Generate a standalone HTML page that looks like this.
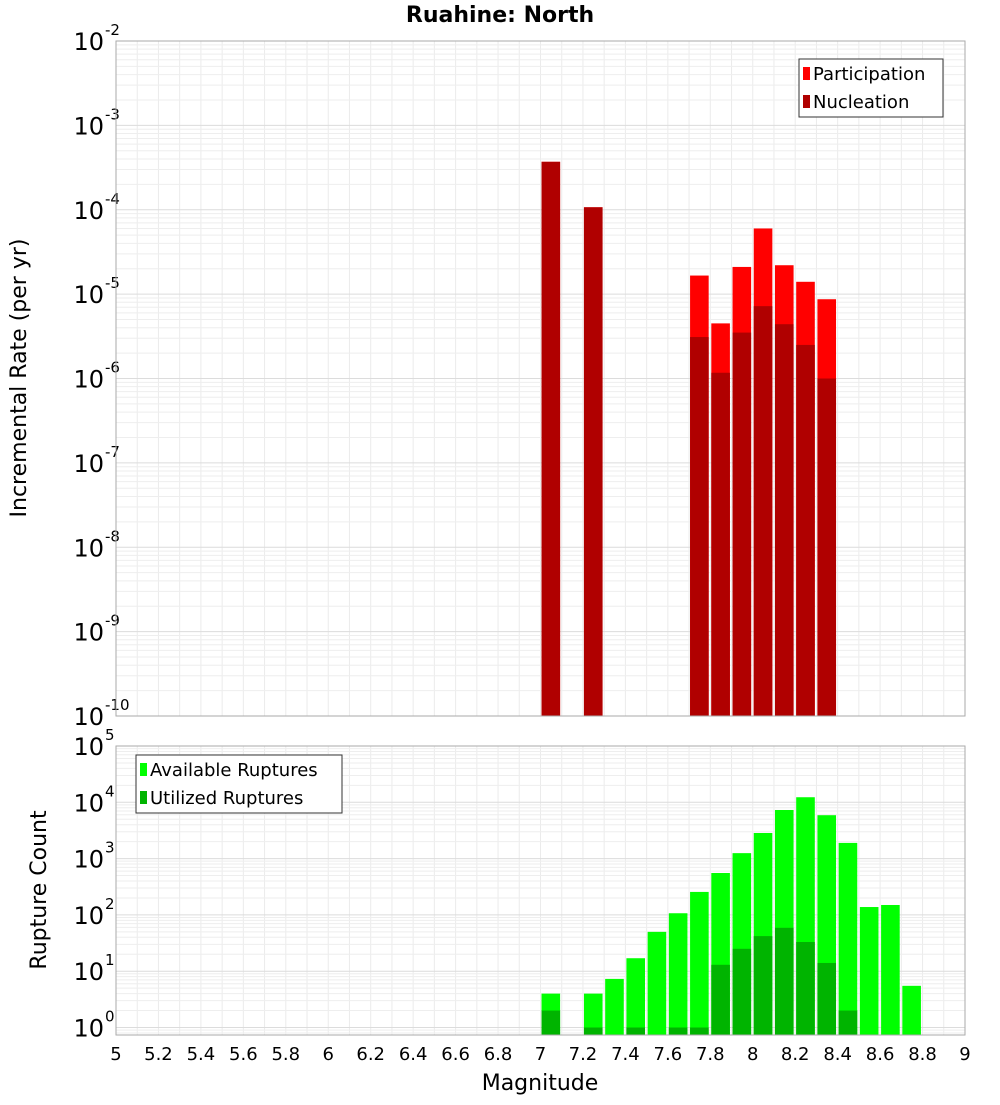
<!DOCTYPE html>
<html><head><meta charset="utf-8"><style>
body{margin:0;background:#fff;font-family:"Liberation Sans","DejaVu Sans",sans-serif}
</style></head><body>
<svg id="chart" width="1000" height="1100" xmlns="http://www.w3.org/2000/svg" font-family="DejaVu Sans, Liberation Sans, sans-serif">
<text x="500" y="22" text-anchor="middle" font-size="22" font-weight="bold">Ruahine: North</text>
<g id="top"></g><g id="bot"></g>
<text transform="translate(26,378) rotate(-90)" text-anchor="middle" font-size="22">Incremental Rate (per yr)</text>
<text transform="translate(46,890) rotate(-90)" text-anchor="middle" font-size="22">Rupture Count</text>
<text x="540" y="1090" text-anchor="middle" font-size="22">Magnitude</text>
</svg>
<script>
const rateMags=[7.05,7.25,7.75,7.85,7.95,8.05,8.15,8.25,8.35];
const participation=[3.7e-4,1.07e-4,1.66e-5,4.5e-6,2.1e-5,6e-5,2.2e-5,1.4e-5,8.7e-6];
const nucleation=[3.7e-4,1.07e-4,3.1e-6,1.17e-6,3.5e-6,7.2e-6,4.4e-6,2.5e-6,1.0e-6];
const countMags=[7.05,7.25,7.35,7.45,7.55,7.65,7.75,7.85,7.95,8.05,8.15,8.25,8.35,8.45,8.55,8.65,8.75];
const available=[4,4,7.3,17,50,107,256,555,1250,2850,7300,12300,5900,1900,138,150,5.5];
const utilizedMags=[7.05,7.25,7.45,7.65,7.75,7.85,7.95,8.05,8.15,8.25,8.35,8.45];
const utilized=[2,1,1,1,1,13,25,42,59,33,14,2];
const xTicks=[5,5.2,5.4,5.6,5.8,6,6.2,6.4,6.6,6.8,7,7.2,7.4,7.6,7.8,8,8.2,8.4,8.6,8.8,9];
const topExps=[-2,-3,-4,-5,-6,-7,-8,-9,-10];
const botExps=[5,4,3,2,1,0];

const NS="http://www.w3.org/2000/svg";
const X0=116,X1=965;
const x=m=>X0+(m-5)/4*(X1-X0);
const yTop=v=>41+(-2-Math.log10(v))*84.375;
const yBot=v=>746+(5-Math.log10(v))*56.3;
function mk(p,t,a){const e=document.createElementNS(NS,t);for(const k in a)e.setAttribute(k,a[k]);p.appendChild(e);return e;}

function panel(g,yf,top,bottom,emin,emax,exps,name){
  for(let m=5;m<=9.001;m+=0.1){const l=mk(g,'line',{x1:x(m),x2:x(m),y1:top,y2:bottom,stroke:'#ebebeb'});
    
    }
  for(let e=emin;e<emax;e++)for(let k=1;k<10;k++){const yy=yf(k*Math.pow(10,e));if(yy<top||yy>bottom)continue;
    const l=mk(g,'line',{x1:X0,x2:X1,y1:yy,y2:yy,stroke:k==1?'#dcdcdc':'#eeeeee'});
    
    }
  exps.forEach(e=>{const yy=yf(Math.pow(10,e));
    const t=mk(g,'text',{x:104,y:yy+9,'text-anchor':'end','font-size':24});
    
    
    t.textContent='10';
    const s=mk(g,'text',{x:105,y:yy-6,'font-size':15});
    
    
    s.textContent=e;});
}
function bars(g,mags,vals,yf,bottom,color,name){
  mags.forEach((m,i)=>{const yy=yf(vals[i]);
    const r=mk(g,'rect',{x:x(m-0.05)+1,y:yy,width:x(0.09+5)-X0-0.5,height:bottom-yy,fill:color});
    
    });
}
const gt=document.getElementById('top'),gb=document.getElementById('bot');
panel(gt,yTop,41,716,-10,-2,topExps,'top');
bars(gt,rateMags,participation,yTop,716,'#ff0000','participation-bar');
bars(gt,rateMags,nucleation,yTop,716,'#b00000','nucleation-bar');
let f=mk(gt,'rect',{x:X0,y:41,width:X1-X0,height:675,fill:'none',stroke:'#aaa'});

panel(gb,yBot,746,1035,-1,5,botExps,'bottom');
bars(gb,countMags,available,yBot,1035,'#00ff00','available-bar');
bars(gb,utilizedMags,utilized,yBot,1035,'#00b400','utilized-bar');
f=mk(gb,'rect',{x:X0,y:746,width:X1-X0,height:289,fill:'none',stroke:'#aaa'});

xTicks.forEach(m=>{const t=mk(gb,'text',{x:x(m),y:1060,'text-anchor':'middle','font-size':18});
  
  
  t.textContent=String(m);});
function legend(g,lx,ly,w,items,name){
  const r=mk(g,'rect',{x:lx,y:ly,width:w,height:58,fill:'#fff',stroke:'#333'});
  
  
  items.forEach((it,i)=>{
    const s=mk(g,'rect',{x:lx+4,y:ly+8+i*28,width:7,height:13,fill:it[1]});
    
    
    const t=mk(g,'text',{x:lx+14,y:ly+21+i*28,'font-size':18});
    
    
    t.textContent=it[0];});
}
legend(gt,799,59,144,[['Participation','#ff0000'],['Nucleation','#b00000']],'top-legend');
legend(gb,136,755,206,[['Available Ruptures','#00ff00'],['Utilized Ruptures','#00b400']],'bottom-legend');
</script>
</body></html>
